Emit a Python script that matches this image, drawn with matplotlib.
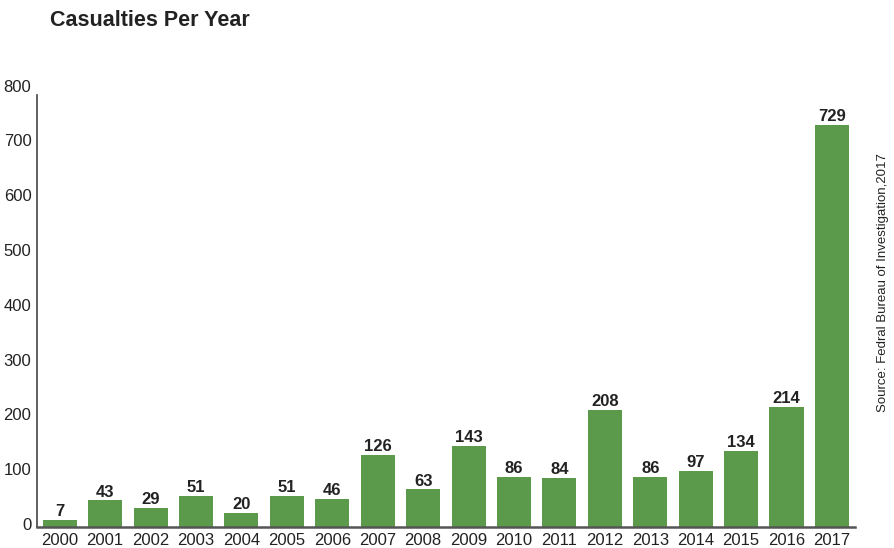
import matplotlib
matplotlib.use("Agg")
import matplotlib.pyplot as plt

years = ["2000", "2001", "2002", "2003", "2004", "2005", "2006", "2007", "2008",
         "2009", "2010", "2011", "2012", "2013", "2014", "2015", "2016", "2017"]
casualties = [7, 43, 29, 51, 20, 51, 46, 126, 63, 143, 86, 84, 208, 86, 97, 134, 214, 729]
yticks = [0, 100, 200, 300, 400, 500, 600, 700, 800]

plt.rcParams['font.family'] = ['Liberation Sans', 'DejaVu Sans']

fig = plt.figure(figsize=(8.94, 5.48), dpi=100)
ax = fig.add_axes([0.0414, 0.0383, 0.9146, 0.8055])

base = -5.5  # axis line sits slightly below zero; bars start from it
x = list(range(len(years)))
ax.bar(x, [v - base for v in casualties], width=0.75, color="#5b9a4b",
       bottom=base, zorder=2)
for xi, v in zip(x, casualties):
    ax.annotate(str(v), (xi, v), xytext=(0, 0.5), textcoords="offset points",
                ha="center", va="bottom", fontsize=12,
                fontweight="bold", color="#222222")

ax.set_xlim(-0.5, len(years) - 0.5)
ax.set_ylim(base, 800)
ax.set_xticks(x)
ax.set_xticklabels(years)
ax.set_yticks(yticks)
ax.set_yticklabels([str(t) for t in yticks])
ax.tick_params(axis="both", length=0, labelsize=12, colors="#222222")
ax.tick_params(axis="y", pad=4)
ax.tick_params(axis="x", pad=4)

for s in ["top", "right"]:
    ax.spines[s].set_visible(False)
ax.spines["left"].set_color("#444444")
ax.spines["bottom"].set_color("#555555")
ax.spines["left"].set_linewidth(1.2)
ax.spines["bottom"].set_linewidth(1.8)
ax.spines["left"].set_bounds(base, 782)

fig.text(50 / 894, 1 - 20 / 548, "Casualties Per Year", fontsize=15.5,
         fontweight="bold", color="#222222", ha="left", va="center")
fig.text(883 / 894, 1 - 283 / 548, "Source: Fedral Bureau of Investigation,2017",
         rotation=90, fontsize=9.5, color="#222222", ha="center", va="center")

fig.savefig("out.png", dpi=100)
